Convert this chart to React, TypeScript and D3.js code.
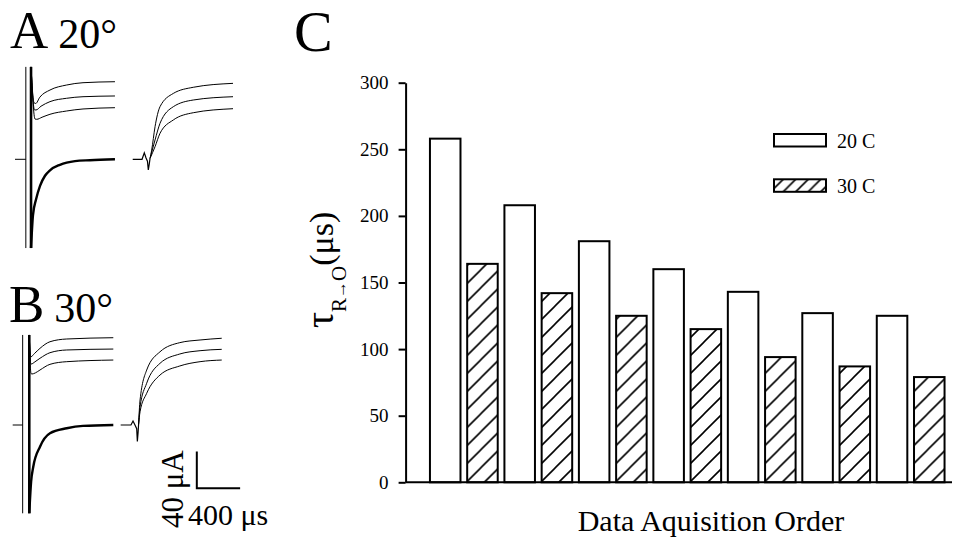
import React, { useEffect, useRef } from "react";
import * as d3 from "d3";

// Panel C: time constant per acquisition, two temperatures
const groups = ["1", "2", "3", "4", "5", "6", "7"];
const series = ["20 C", "30 C"];
const tau20 = [258, 208, 181, 160, 143, 127, 125];
const tau30 = [164, 142, 125, 115, 94, 87, 79];
const yTicks = [0, 50, 100, 150, 200, 250, 300];

// Panels A and B: current traces, [time (µs), current (µA)]
const a_base = [[0, 0], [100, 0]];
const a_artifact = [[100, 101], [100, -97]];
const a_spike = [[148, 101], [148, -97]];
const a_up1 = [[148, 101], [175, 62], [191, 61], [230, 68], [323, 75.7], [477, 81.2], [628, 83.7], [923, 84.8]];
const a_up2 = [[148, 101], [180, 54], [194, 53.9], [240, 58], [323, 63], [477, 66.7], [628, 68.4], [923, 69.2]];
const a_up3 = [[148, 101], [185, 44], [200, 43.7], [250, 46], [323, 49.2], [477, 52.8], [628, 55], [923, 56.4]];
const a_down = [[148, -97], [166, -61], [194, -44], [231, -29], [277, -18], [323, -12], [415, -6], [554, -2], [692, -1], [923, 0]];
const a_off = [[1087, 0], [1173, 0], [1194, 7], [1210, 1.4], [1223, -2], [1231, -11.7], [1240, -5], [1247, 1]];
const a_off1 = [[1247, 1], [1262, 10], [1293, 35.6], [1339, 57.5], [1462, 72], [1646, 78.7], [2013, 83]];
const a_off2 = [[1247, 1], [1293, 21.1], [1339, 39.3], [1462, 57.5], [1646, 64.8], [2013, 68.4]];
const a_off3 = [[1247, 1], [1293, 13.8], [1339, 28.4], [1462, 43], [1646, 50.9], [2013, 55.3]];

const b_base = [[0, 0], [92, 0]];
const b_artifact = [[92, 98.4], [92, -96.5]];
const b_spike = [[153, 98.4], [153, -96.5]];
const b_up1 = [[153, 98.4], [163, 76], [169, 74.6], [200, 78], [252, 83.8], [344, 91], [499, 94], [929, 95.4]];
const b_up2 = [[153, 98.4], [165, 68], [172, 66.7], [205, 69], [252, 72.9], [344, 79], [499, 82], [929, 83]];
const b_up3 = [[153, 98.4], [168, 57], [176, 55.7], [210, 57], [252, 60.1], [344, 66.3], [499, 69.2], [929, 71]];
const b_down = [[153, -96.5], [170, -62], [190, -45.6], [252, -23.7], [344, -9], [499, -3.6], [649, -1], [929, 0]];
const b_off = [[997, 0], [1092, 0], [1111, 4.4], [1129, 0], [1145, -4], [1151, -18], [1158, -8], [1162, 0]];
const b_off1 = [[1162, 0], [1176, 27.3], [1237, 60], [1360, 80], [1543, 90], [1730, 92.9], [1930, 94.8]];
const b_off2 = [[1162, 0], [1176, 20], [1237, 45.6], [1360, 67.4], [1543, 77.6], [1730, 81.2], [1930, 82.7]];
const b_off3 = [[1162, 0], [1176, 14.5], [1237, 34.6], [1360, 54.6], [1543, 64.5], [1730, 69.2], [1930, 71]];

// scale bar: position (µs, µA) and size
const scaleBar = { t: 1700, i: -69, dt: 400, di: 40 };

const FONT = "'Liberation Serif', 'Times New Roman', serif";

const App = () => {
  const ref = useRef<SVGSVGElement | null>(null);

  useEffect(() => {
    document.body.style.margin = "0";
    const svg = d3.select(ref.current);
    svg.selectAll("*").remove();

    const defs = svg.append("defs");
    const hatch = (id: string, size: number) => {
      const p = defs
        .append("pattern")
        .attr("id", id)
        .attr("patternUnits", "userSpaceOnUse")
        .attr("width", size)
        .attr("height", size);
      p.append("rect").attr("width", size).attr("height", size).attr("fill", "#fff");
      p.append("path")
        .attr("d", `M0,${size} L${size},0 M${-size / 2},${size / 2} L${size / 2},${-size / 2} M${size / 2},${size * 1.5} L${size * 1.5},${size / 2}`)
        .attr("stroke", "#000")
        .attr("stroke-width", 1.6);
    };
    hatch("hatch", 18);
    hatch("hatchSmall", 12.5);

    // ---------- traces (A, B) ----------
    const tx = d3.scaleLinear().domain([0, 2000]).range([0, 216.6]);
    const ty = d3.scaleLinear().domain([-100, 100]).range([91.5, -91.5]);
    const smooth = d3.line().x((d) => tx(d[0])).y((d) => ty(d[1])).curve(d3.curveMonotoneX);
    const straight = d3.line().x((d) => tx(d[0])).y((d) => ty(d[1]));

    const drawPanel = (ox: number, oy: number, sets: any) => {
      const g = svg.append("g").attr("transform", `translate(${ox},${oy})`);
      const add = (data: any, gen: any, w: number) =>
        g.append("path").attr("d", gen(data)).attr("fill", "none").attr("stroke", "#000").attr("stroke-width", w);
      add(sets.base, straight, 1);
      add(sets.artifact, straight, 1);
      add(sets.spike, straight, 2.6);
      sets.up.forEach((d: any) => add(d, smooth, 1));
      add(sets.down, smooth, 2.4);
      add(sets.off, straight, 1.2);
      sets.offUp.forEach((d: any) => add(d, smooth, 1));
      return g;
    };

    drawPanel(15, 159.3, {
      base: a_base, artifact: a_artifact, spike: a_spike,
      up: [a_up1, a_up2, a_up3], down: a_down, off: a_off, offUp: [a_off1, a_off2, a_off3],
    });
    const gb = drawPanel(12.7, 425, {
      base: b_base, artifact: b_artifact, spike: b_spike,
      up: [b_up1, b_up2, b_up3], down: b_down, off: b_off, offUp: [b_off1, b_off2, b_off3],
    });

    // scale bar
    const sbx = tx(scaleBar.t);
    const sby = ty(scaleBar.i);
    gb.append("path")
      .attr("d", `M${sbx},${ty(scaleBar.i + scaleBar.di)} L${sbx},${sby} L${tx(scaleBar.t + scaleBar.dt)},${sby}`)
      .attr("fill", "none")
      .attr("stroke", "#000")
      .attr("stroke-width", 2);
    svg.append("text")
      .attr("transform", "translate(183,528) rotate(-90)")
      .style("font-family", FONT).style("font-size", "31px")
      .text("40 μA");
    svg.append("text")
      .attr("x", 188).attr("y", 525)
      .style("font-family", FONT).style("font-size", "30px")
      .text("400 μs");

    // panel letters
    const label = (x: number, y: number, big: string, small: string) => {
      const t = svg.append("text").attr("x", x).attr("y", y).style("font-family", FONT);
      t.append("tspan").style("font-size", "53px").text(big);
      t.append("tspan").attr("dx", 10).style("font-size", "42px").text(small);
    };
    label(10, 48, "A", "20°");
    label(9, 322, "B", "30°");
    svg.append("text").attr("x", 294).attr("y", 51)
      .style("font-family", FONT).style("font-size", "58px").text("C");

    // ---------- bar chart (C) ----------
    const axisX = 405.6;
    const y = d3.scaleLinear().domain([0, 300]).range([482.3, 82.7]);
    const x0 = d3.scaleBand().domain(groups).range([426.6, 947.9]).padding(0);
    const x1 = d3.scaleBand().domain(series).range([0, x0.bandwidth()]).paddingInner(0.18).paddingOuter(0.09);

    const rows = groups.map((g, i) => ({ g, vals: [tau20[i], tau30[i]] }));
    const grp = svg.append("g")
      .selectAll("g")
      .data(rows)
      .enter()
      .append("g")
      .attr("transform", (d) => `translate(${x0(d.g)},0)`);
    grp.selectAll("rect")
      .data((d) => d.vals.map((v, k) => ({ s: series[k], v })))
      .enter()
      .append("rect")
      .attr("x", (d) => x1(d.s) as number)
      .attr("y", (d) => y(d.v))
      .attr("width", x1.bandwidth())
      .attr("height", (d) => y(0) - y(d.v))
      .attr("fill", (d) => (d.s === series[0] ? "#fff" : "url(#hatch)"))
      .attr("stroke", "#000")
      .attr("stroke-width", 2);

    // baseline
    svg.append("line")
      .attr("x1", axisX).attr("x2", 952)
      .attr("y1", y(0)).attr("y2", y(0))
      .attr("stroke", "#000").attr("stroke-width", 2);

    const yAxis = svg.append("g")
      .attr("transform", `translate(${axisX},0)`)
      .call(d3.axisLeft(y).tickValues(yTicks).tickSize(7).tickSizeOuter(0).tickPadding(10));
    yAxis.select(".domain").attr("stroke-width", 2);
    yAxis.selectAll(".tick line").attr("stroke-width", 2);
    yAxis.selectAll(".tick text").style("font-family", FONT).style("font-size", "19px").attr("fill", "#000");

    // y label
    const yl = svg.append("text")
      .attr("transform", "translate(333,328) rotate(-90)")
      .style("font-family", FONT);
    yl.append("tspan").style("font-size", "40px").text("τ");
    yl.append("tspan").attr("dy", 13).style("font-size", "21px").text("R");
    yl.append("tspan").style("font-size", "17px").text("→");
    yl.append("tspan").style("font-size", "21px").text("O");
    yl.append("tspan").attr("dy", -13).style("font-size", "34px").text("(μs)");

    // x label
    svg.append("text")
      .attr("x", 711).attr("y", 531)
      .attr("text-anchor", "middle")
      .style("font-family", FONT).style("font-size", "30px")
      .text("Data Aquisition Order");

    // legend
    const legend = svg.append("g");
    series.forEach((s, k) => {
      const ly = 134 + k * 45.3;
      legend.append("rect")
        .attr("x", 774).attr("y", ly).attr("width", 52).attr("height", 12.5)
        .attr("fill", k === 0 ? "#fff" : "url(#hatchSmall)")
        .attr("stroke", "#000").attr("stroke-width", 2);
      legend.append("text")
        .attr("x", 837).attr("y", ly + 13.5)
        .style("font-family", FONT).style("font-size", "20px")
        .text(s);
    });
  }, []);

  return <svg ref={ref} width={961} height={539} style={{ display: "block", background: "#fff" }} />;
};

export default App;
